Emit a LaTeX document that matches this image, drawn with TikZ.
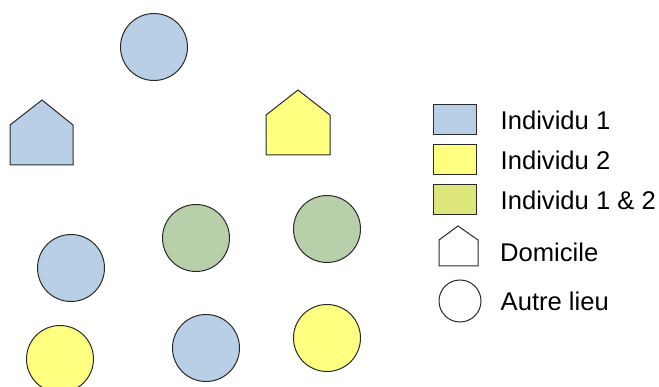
\documentclass[tikz,border=0pt]{standalone}
\usepackage{fontspec}
\setmainfont{Liberation Sans}
\usepackage{tikz}
\usetikzlibrary{positioning}
\definecolor{bleu}{HTML}{B9CFE5}
\definecolor{jaune}{HTML}{FFFF80}
\definecolor{vert}{HTML}{B8D0AA}
\definecolor{jaunevert}{HTML}{DDE67A}
\definecolor{trait}{HTML}{2A2A2A}

\begin{document}
\begin{tikzpicture}[x=1pt,y=-1pt,
  lieu/.style={circle,draw=trait,line width=1pt,minimum size=67pt,inner sep=0pt},
  maison/.style={draw=trait,line width=1pt,line join=miter},
  carre/.style={draw=trait,line width=1pt,minimum width=43pt,minimum height=30pt,inner sep=0pt},
  legende/.style={inner sep=0pt,font=\fontsize{25.6}{30}\selectfont}]
\useasboundingbox (0,0) rectangle (659,387);
% domiciles
\draw[maison,fill=bleu] (10,165) -- (10,125) -- (42,100) -- (73,125) -- (73,165) -- cycle;
\draw[maison,fill=jaune] (266,155) -- (266,115) -- (298,90) -- (330,115) -- (330,155) -- cycle;
% autres lieux
\node[lieu,fill=bleu] (l1) at (154,47) {};
\node[lieu,fill=bleu] (l2) at (71,268) {};
\node[lieu,fill=vert] (l3) at (196,238) {};
\node[lieu,fill=vert] (l4) at (327,229) {};
\node[lieu,fill=jaune] (l5) at (60,359) {};
\node[lieu,fill=bleu] (l6) at (206,348) {};
\node[lieu,fill=jaune] (l7) at (327,338) {};
% legende
\node[carre,fill=bleu] (c1) at (454.5,120) {};
\node[carre,fill=jaune] (c2) at (454.5,160) {};
\node[carre,fill=jaunevert] (c3) at (454.5,200) {};
\node[legende,right=24pt of c1] (t1) {Individu 1};
\node[legende,right=24pt of c2] (t2) {Individu 2};
\node[legende,right=24pt of c3] (t3) {Individu 1 \& 2};
\draw[maison,fill=white] (439,266) -- (439,240) -- (458,226) -- (478,240) -- (478,266) -- cycle;
\node[legende,anchor=west] (t4) at (500,252) {Domicile};
\node[lieu,fill=white,minimum size=42pt] (c5) at (460,301) {};
\node[legende,right=19pt of c5] (t5) {Autre lieu};
\end{tikzpicture}
\end{document}
